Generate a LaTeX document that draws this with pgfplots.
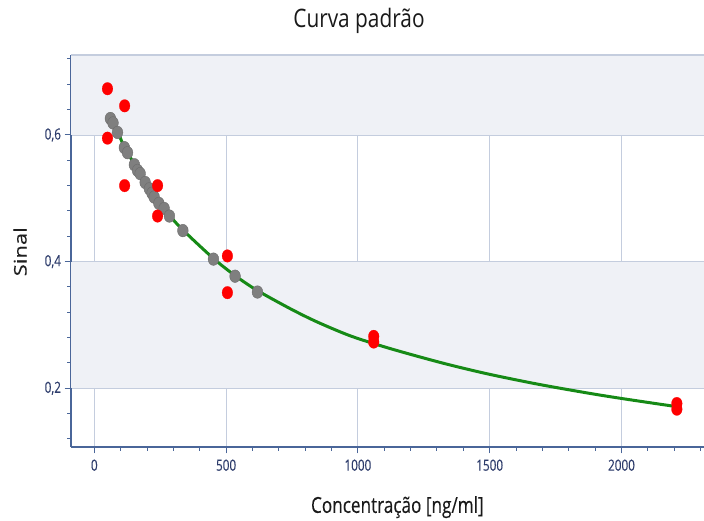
\documentclass[border=0pt]{standalone}
\usepackage{pgfplots}
\pgfplotsset{compat=1.18}
\usepackage{fontspec}
\setmainfont{Open Sans}
\newfontfamily\sq[FakeStretch=0.82]{Open Sans}
\newfontfamily\sqt[FakeStretch=0.76,FakeBold=0.35]{Open Sans}
\newfontfamily\sqx[FakeStretch=0.78,FakeBold=0.2]{Open Sans}
\newfontfamily\syl[FakeBold=0.3]{Open Sans}
\definecolor{band}{HTML}{EFF1F6}
\definecolor{gridc}{HTML}{C4CDDE}
\definecolor{axisc}{HTML}{4A6699}
\definecolor{tickc}{HTML}{2E3D6C}
\definecolor{curvec}{HTML}{168A16}
\definecolor{graym}{HTML}{7F7F7F}
\definecolor{redm}{HTML}{FF0000}
\pgfplotstableread{
x y
58 0.635
88 0.606
114 0.581
152 0.554
193 0.526
227 0.504
265 0.484
285 0.473
336 0.450
452 0.405
534 0.378
616 0.355
742 0.326
844 0.305
970 0.283
1096 0.266
1222 0.251
1348 0.237
1500 0.222
1689 0.206
1879 0.192
1999 0.184
2144 0.175
2210 0.171
}\curvetab
\pgfplotstableread{
x y
61 0.626
71 0.619
88 0.604
114 0.580
126 0.572
152 0.553
164 0.544
174 0.539
193 0.525
209 0.515
219 0.508
227 0.502
245 0.492
265 0.484
285 0.472
336 0.449
452 0.404
534 0.377
619 0.352
}\graytab
\pgfplotstableread{
x y
50 0.673
50 0.595
115 0.646
115 0.520
240 0.520
240 0.472
505 0.409
505 0.351
1060 0.282
1060 0.273
2210 0.176
2210 0.167
}\redtab
\begin{document}
\begin{tikzpicture}
\begin{axis}[
  at={(71pt,74pt)}, anchor=south west,
  scale only axis, width=635pt, height=392pt,
  xmin=-88.4, xmax=2320.6, ymin=0.1073, ymax=0.7263,
  set layers=standard,
  axis x line*=bottom, axis y line*=left,
  axis line style={axisc, line width=1.2pt, -},
  xtick={0,500,1000,1500,2000},
  minor xtick={100,200,300,400,600,700,800,900,1100,1200,1300,1400,1600,1700,1800,1900,2100,2200,2300},
  ytick={0.2,0.4,0.6},
  minor ytick={0.12,0.16,0.24,0.28,0.32,0.36,0.44,0.48,0.52,0.56,0.64,0.68,0.72},
  tick align=outside,
  major tick length=6.5pt, minor tick length=4pt,
  every tick/.style={axisc, line width=1pt},
  grid=major,
  major grid style={gridc, line width=0.9pt},
  /pgf/number format/assume math mode=true,
  /pgf/number format/use comma,
  yticklabel style={/pgf/number format/fixed, /pgf/number format/precision=1, /pgf/number format/fixed zerofill, font=\sqt\fontsize{15.4}{16}\selectfont, color=tickc},
  xticklabel style={/pgf/number format/1000 sep={}, font=\sqt\fontsize{15.4}{16}\selectfont, color=tickc, yshift=-2.5pt},
  scaled x ticks=false,
  xlabel={Concentração [ng/ml]},
  xlabel style={font=\sqx\fontsize{22}{24}\selectfont, color=black!90, at={(axis description cs:0.514,-0.168)}, anchor=base},
  ylabel={\scalebox{1}[0.79]{Sinal}},
  ylabel style={font=\syl\fontsize{22}{24}\selectfont, color=black!88, at={(axis description cs:-0.0803,0.498)}, anchor=center},
  title={Curva padrão},
  title style={font=\sq\fontsize{25.4}{28}\selectfont, color=black!90, at={(axis description cs:0.4535,1.0554)}, anchor=base},
]
\fill[band, on layer=axis background] (axis cs:-88.4,0.6) rectangle (axis cs:2320.6,0.7263);
\fill[band, on layer=axis background] (axis cs:-88.4,0.2) rectangle (axis cs:2320.6,0.4);
\draw[gridc, line width=1.2pt, on layer=axis grid] (axis cs:-88.4,0.7263) -- (axis cs:2320.6,0.7263);
\addplot[curvec, line width=3pt, smooth, no markers] table[x=x,y=y] {\curvetab};
\addplot[only marks, mark=*, mark size=6.3pt, mark options={fill=graym, draw=graym!85!black, line width=0.4pt, xscale=0.85}] table[x=x,y=y] {\graytab};
\addplot[only marks, mark=*, mark size=6.3pt, mark options={fill=redm, draw=redm, line width=0.2pt, xscale=0.85}] table[x=x,y=y] {\redtab};
\end{axis}
\pgfresetboundingbox
\path[use as bounding box] (0pt,0pt) rectangle (704pt,521pt);
\end{tikzpicture}
\end{document}
